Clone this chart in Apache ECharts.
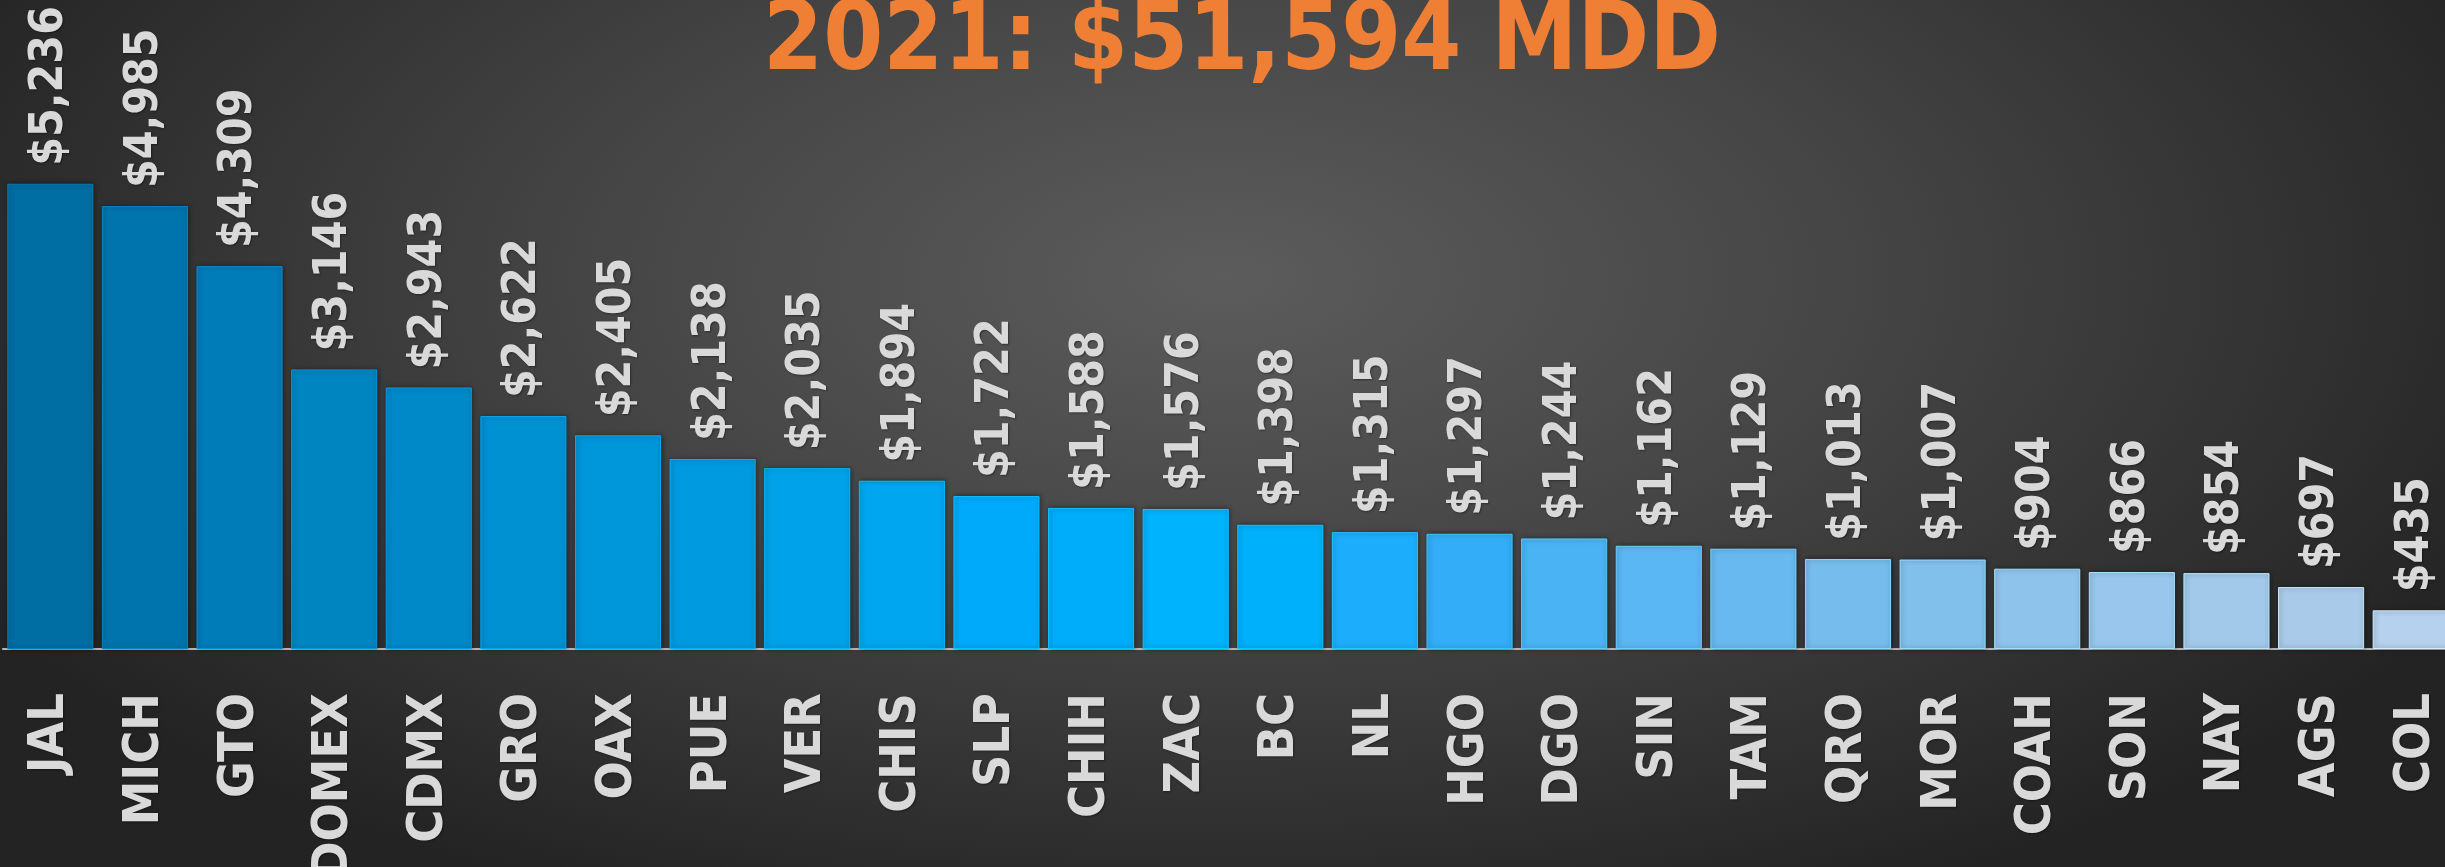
<!DOCTYPE html>
<html>
<head>
<meta charset="utf-8">
<title>2021: $51,594 MDD</title>
<script src="https://cdn.jsdelivr.net/npm/echarts@6/dist/echarts.min.js"></script>
<style>
  html, body { margin: 0; padding: 0; }
  #chart {
    width: 2445px;
    height: 867px;
    background: radial-gradient(ellipse 58% 80% at 50% 32%, #5c5c5c 0%, #454545 45%, #232323 100%);
  }
</style>
</head>
<body>
<div id="chart"></div>
<script>
  // datos por estado (MDD)
  const titleText = '2021: $51,594 MDD';
  const states = ['JAL', 'MICH', 'GTO', 'EDOMEX', 'CDMX', 'GRO', 'OAX', 'PUE', 'VER', 'CHIS', 'SLP', 'CHIH', 'ZAC',
    'BC', 'NL', 'HGO', 'DGO', 'SIN', 'TAM', 'QRO', 'MOR', 'COAH', 'SON', 'NAY', 'AGS', 'COL'];
  const values = [5236, 4985, 4309, 3146, 2943, 2622, 2405, 2138, 2035, 1894, 1722, 1588, 1576,
    1398, 1315, 1297, 1244, 1162, 1129, 1013, 1007, 904, 866, 854, 697, 435];
  const barColors = ['#006da3', '#0074ad', '#007cb9', '#0085c1', '#0089c9', '#0091d3', '#0096da', '#009ae0',
    '#00a2ea', '#00a6f0', '#00aafa', '#00adfb', '#00b3fd', '#00b0fb', '#1caefc', '#33adf7', '#4ab3f4',
    '#5ab7f3', '#68b9f0', '#76bdee', '#82c0ec', '#8ec4ec', '#98c6ec', '#a2c9ea', '#a9cbe9', '#b5d1ee'];

  const font = "'Liberation Sans Narrow', 'DejaVu Sans Condensed', 'Roboto Condensed', 'Liberation Sans', sans-serif";
  const chart = echarts.init(document.getElementById('chart'));

  const option = {
    backgroundColor: 'transparent',
    animation: false,
    graphic: [{
      type: 'text',
      z: 10,
      style: {
        text: titleText,
        x: 1242,
        y: 44,
        align: 'center',
        verticalAlign: 'middle',
        fill: '#ef7f35',
        font: 'bold 96px ' + font,
        shadowColor: 'rgba(0,0,0,0.55)',
        shadowBlur: 4,
        shadowOffsetX: 3,
        shadowOffsetY: 3
      }
    }],
    grid: {
      left: 3,
      top: 27,
      width: 2460,
      bottom: 218,
      containLabel: false,
      outerBoundsMode: 'none'
    },
    xAxis: {
      type: 'category',
      data: states,
      axisLine: { lineStyle: { color: '#b9b9b9', width: 2 } },
      axisTick: { show: false },
      axisLabel: {
        rotate: 90,
        margin: 44,
        interval: 0,
        color: '#d9d9d9',
        fontFamily: font,
        fontWeight: 'bold',
        fontSize: 50,
        textShadowColor: 'rgba(0,0,0,0.4)',
        textShadowBlur: 2,
        textShadowOffsetX: 1,
        textShadowOffsetY: 1
      }
    },
    yAxis: {
      type: 'value',
      min: 0,
      max: 7000,
      show: false,
      splitLine: { show: false }
    },
    series: [{
      type: 'bar',
      barCategoryGap: '9%',
      data: values.map((v, i) => ({
        value: v,
        itemStyle: {
          color: barColors[i],
          borderColor: echarts.color.lift(barColors[i], -0.15),
          borderWidth: 1,
          shadowColor: 'rgba(0,0,0,0.45)',
          shadowBlur: 5,
          shadowOffsetX: 1
        }
      })),
      label: {
        show: true,
        position: 'top',
        distance: 18,
        rotate: 90,
        align: 'left',
        verticalAlign: 'middle',
        color: '#d9d9d9',
        fontFamily: font,
        fontWeight: 'bold',
        fontSize: 46,
        textShadowColor: 'rgba(0,0,0,0.4)',
        textShadowBlur: 2,
        textShadowOffsetX: 1,
        textShadowOffsetY: 1,
        formatter: p => '$' + p.value.toLocaleString('en-US')
      }
    }]
  };

  chart.setOption(option);
</script>
</body>
</html>
